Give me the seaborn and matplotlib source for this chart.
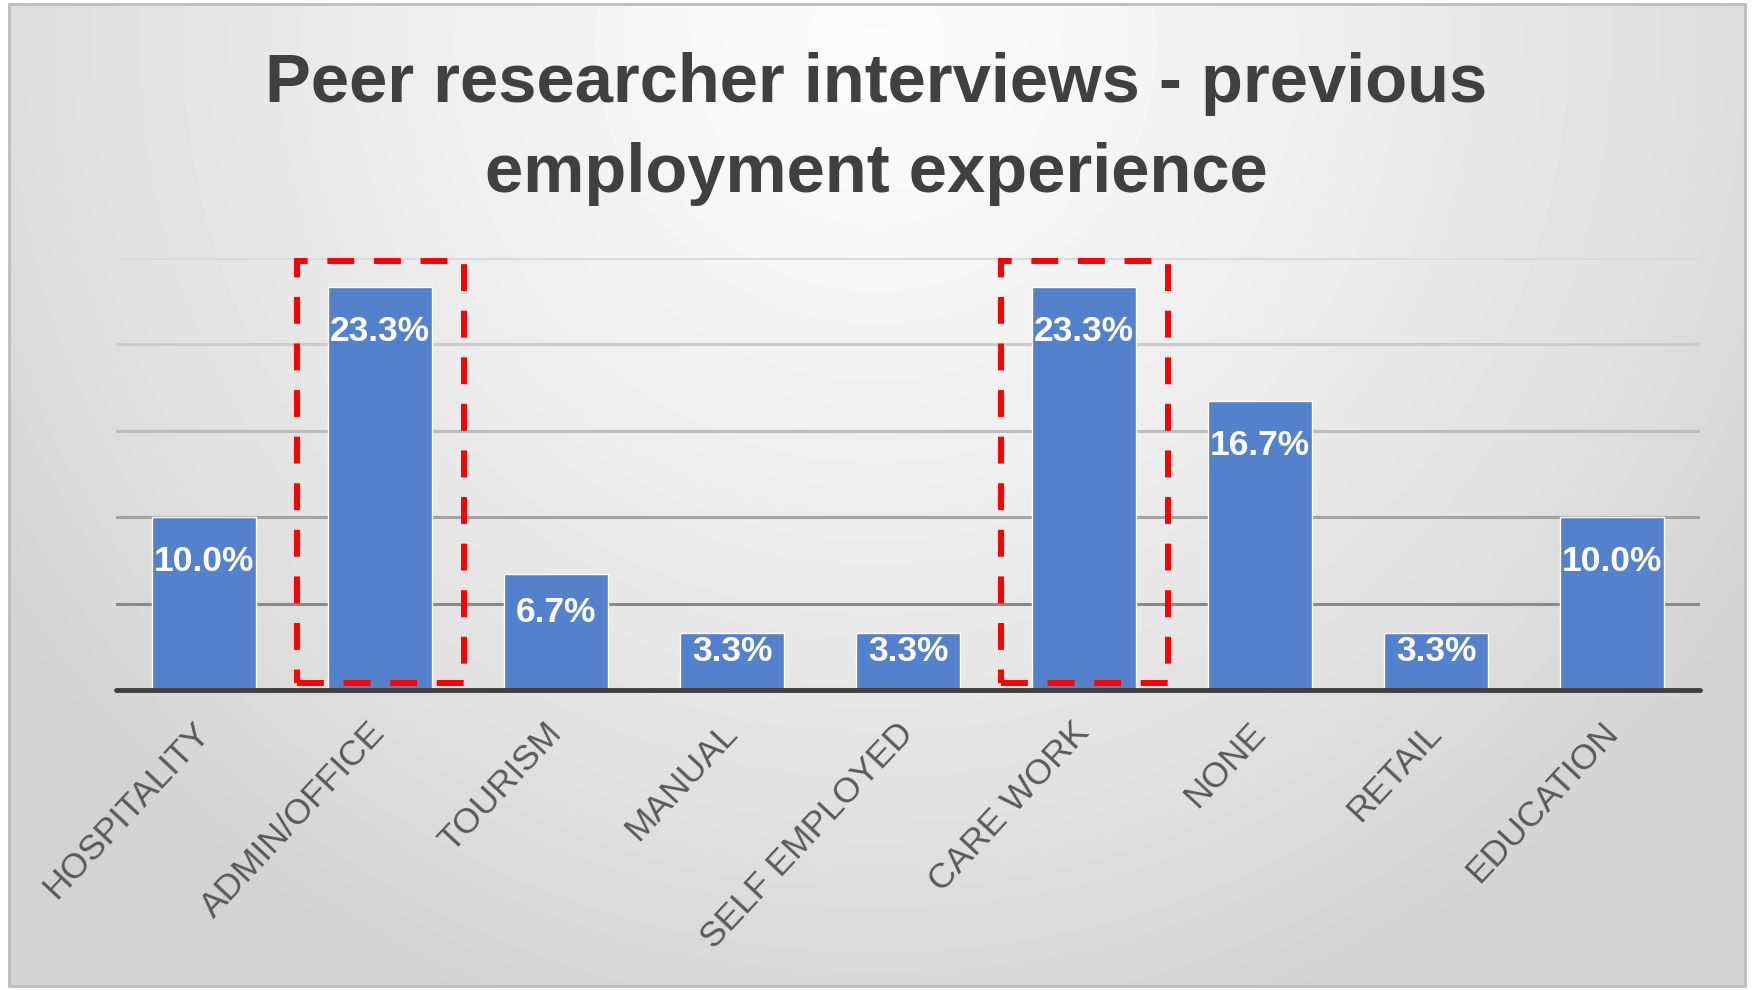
import numpy as np
import matplotlib
matplotlib.use("Agg")
import matplotlib.pyplot as plt
from matplotlib.patches import Rectangle
import seaborn as sns

# Chart data
categories = ["HOSPITALITY", "ADMIN/OFFICE", "TOURISM", "MANUAL", "SELF EMPLOYED",
              "CARE WORK", "NONE", "RETAIL", "EDUCATION"]
values = [10.0, 23.3, 6.7, 3.3, 3.3, 23.3, 16.7, 3.3, 10.0]
highlighted = ["ADMIN/OFFICE", "CARE WORK"]
title = "Peer researcher interviews - previous\nemployment experience"
grid_levels = [5, 10, 15, 20, 25]

sns.set_theme(style="white")
plt.rcParams["font.family"] = ["Liberation Sans", "DejaVu Sans"]

W, H = 1752, 990
fig = plt.figure(figsize=(W / 100, H / 100), dpi=100)
fig.patch.set_facecolor("white")

# Panel with soft radial grey gradient
fx0, fx1, fy0, fy1 = 9, 1745, 4, 986
bg = fig.add_axes([fx0 / W, 1 - fy1 / H, (fx1 - fx0) / W, (fy1 - fy0) / H], zorder=0)
gx = np.linspace(fx0, fx1, 400)
gy = np.linspace(fy0, fy1, 240)
XX, YY = np.meshgrid(gx, gy)
r = np.sqrt(((XX - 876) / 1050) ** 2 + ((YY - 40) / 1050) ** 2)
r = np.clip(r, 0, 1)
shade = 0.985 - (0.985 - 0.83) * r ** 1.3
bg.imshow(shade, cmap="gray", vmin=0, vmax=1, aspect="auto",
          extent=[0, 1, 0, 1], interpolation="bilinear")
bg.set_axis_off()
fig.patches.append(Rectangle((fx0 / W, 1 - fy1 / H), (fx1 - fx0) / W, (fy1 - fy0) / H,
                             transform=fig.transFigure, fill=False,
                             edgecolor="#bdbdbd", lw=2, zorder=1))

# Main plotting area
left, right, top, bottom = 116, 1700, 258, 690
ax = fig.add_axes([left / W, 1 - bottom / H, (right - left) / W, (bottom - top) / H], zorder=2)
ax.patch.set_alpha(0)

grid_colors = ["#8a8a8a", "#a3a3a3", "#bcbcbc", "#cbcbcb", "#dadada"]
for lvl, c in zip(grid_levels, grid_colors):
    ax.axhline(lvl, color=c, lw=2.2, zorder=0)

bar_color = "#5381CB"
sns.barplot(x=categories, y=values, color=bar_color, saturation=1, width=0.59,
            ax=ax, zorder=2)

ax.set_xlim(-0.5, len(categories) - 0.5)
ax.set_ylim(0, 25)
ax.axhline(0, color="#3f3f3f", lw=3.5, zorder=3, clip_on=False)

for s in ax.spines.values():
    s.set_visible(False)
ax.set_yticks([])
ax.set_xlabel("")
ax.set_ylabel("")
ax.tick_params(axis="x", length=0, pad=27)
ax.set_xticks(range(len(categories)))
ax.set_xticklabels(categories, rotation=47, ha="right", va="center",
                   rotation_mode="anchor", fontsize=25.5, color="#595959")

# Value labels inside the bars
for i, v in enumerate(values):
    y = v - min(2.55, 0.33 * v)
    ax.text(i, y, f"{v:.1f}%", ha="center", va="center", color="white",
            fontsize=25.5, fontweight="bold", zorder=4)

# Dashed red highlight boxes
for name in highlighted:
    i = categories.index(name)
    ax.add_patch(Rectangle((i - 0.47, 0.4), 0.95, 24.4, fill=False,
                           edgecolor="#ff0000", lw=4.3,
                           linestyle=(0, (4.5, 3.3)), zorder=5, clip_on=False))

fig.text(0.5, 1 - 192 / H, title, ha="center", va="baseline", fontsize=49.5,
         fontweight="bold", color="#404040", linespacing=1.53, zorder=3)

fig.savefig("out.png", dpi=100)
